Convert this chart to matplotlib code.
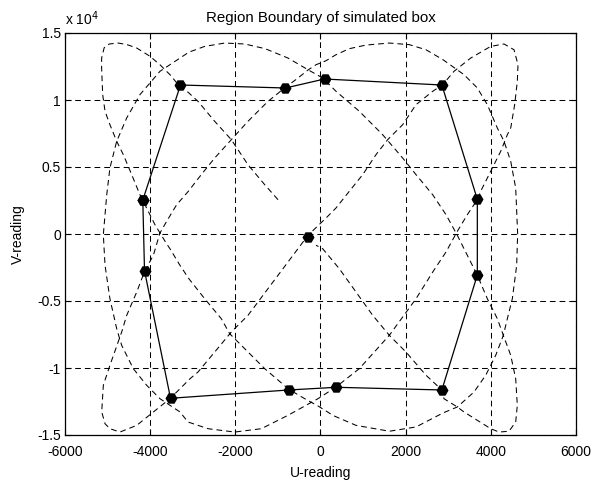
import numpy as np
import matplotlib
matplotlib.use('Agg')
import matplotlib.pyplot as plt

# ---- data ------------------------------------------------------------------
# dashed trace of the simulated readings, in drawing order
curve_u = [-998, -1310, -1703, -2094, -2485, -2877, -3100, -3340, -3535, -3770,
           -4003, -4316, -4540, -4750, -4960, -5080, -5140, -5140, -5115, -5060,
           -4945, -4786, -4630, -4434, -4240, -4043, -3887, -3770, -3620, -3535,
           -3300, -3090, -2720, -2330, -2133, -1780, -1310, -744, -371, -50,
           300, 834, 1616, 2243, 2880, 3213, 3605, 3880, 4115, 4294,
           4388, 4505, 4607, 4630, 4584, 4467, 4310, 4153, 3918, 3683,
           3370, 2880, 2478, 2086, 1616, 1069, 677, 364, 129, -106,
           -294, -528, -841, -1233, -1703, -2094, -2485, -2800, -3100, -3377,
           -3612, -3770, -3925, -4121, -4316, -4551, -4669, -4800, -4945, -5100,
           -5138, -5060, -4945, -4710, -4316, -3925, -3535, -3064, -2877, -2485,
           -2094, -1703, -1233, -763, -294, 129, 364, 677, 991, 1303,
           1578, 1930, 2243, 2635, 2870, 3135, 3527, 3997, 4310, 4545,
           4638, 4622, 4560, 4467, 4388, 4232, 3997, 3762, 3683, 3448,
           3213, 2948, 2635, 2243, 1616, 911, 364, -59, -763, -1390,
           -2015, -2640, -3112, -3300, -3770, -4082, -4396, -4669, -4786, -4945,
           -5060, -5100, -5020, -4945, -4786, -4551, -4240, -3770, -3090, -2720,
           -2250, -1780, -1300, -763, -294, 52, 364, 911, 1460, 1930,
           2243, 2635, 2948, 3213, 3370, 3683, 3918, 4153, 4294, 4467,
           4584, 4622, 4584, 4427, 4192, 3997, 3683, 3370, 3213, 2900,
           2850, 2478, 2008, 1616, 1226, 834, 442, 52, -106]
curve_v = [2560, 3680, 5170, 7040, 8410, 9900, 10550, 11140, 11890, 12630,
           13260, 13880, 14130, 14250, 14180, 13900, 13130, 12390, 10400, 9160,
           8160, 6920, 5920, 4430, 2930, 1690, 690, 75, -700, -1100,
           -2340, -3340, -4830, -6320, -7440, -8560, -10050, -11590, -12290, -12850,
           -13550, -14280, -14720, -14400, -13350, -12910, -11790, -10540, -9050, -7560,
           -6320, -4830, -2340, 0, 3430, 5430, 6920, 7910, 9650, 10900,
           11890, 13000, 13750, 14130, 14250, 14100, 13830, 13380, 12930, 12630,
           12240, 11640, 10900, 9900, 8410, 7040, 5670, 4430, 3200, 2190,
           950, 75, -1590, -2710, -4330, -6070, -7310, -8500, -9800, -11290,
           -13280, -14160, -14530, -14780, -14280, -13280, -12290, -10800, -10300, -8810,
           -7310, -6070, -4080, -2090, -100, 1190, 1940, 3190, 4430, 5920,
           7040, 8160, 9650, 10650, 11140, 12140, 13130, 14000, 14180, 13750,
           12630, 11390, 9650, 7910, 7410, 6170, 4680, 3190, 2560, 1440,
           200, -1340, -2840, -4830, -7560, -10050, -11420, -12290, -13530, -14530,
           -14780, -14530, -14030, -13280, -12290, -11290, -10050, -8310, -7070, -4830,
           -2340, -50, 2930, 4930, 6920, 8660, 10400, 12140, 13570, 14000,
           14250, 14180, 13830, 13130, 12260, 11640, 10650, 9160, 7410, 5670,
           4430, 2930, 1440, -100, -1100, -3080, -4830, -6320, -7560, -9050,
           -10800, -12780, -14030, -14720, -14780, -14530, -13900, -13280, -12910, -12290,
           -11640, -10540, -8810, -7560, -6070, -4330, -2590, -1100, -840]

# boundary vertices (closed polygon)
poly_u = [-4173, -3288, -822, 94, 2850, 3683, 3683, 2850, 368, -744, -3522, -4133, -4173]
poly_v = [2537, 11119, 10896, 11567, 11119, 2590, -3060, -11640, -11440, -11640, -12260, -2740, 2537]

center_u = [-282]
center_v = [-224]

xticks = [-6000, -4000, -2000, 0, 2000, 4000, 6000]
yticks = [-15000, -10000, -5000, 0, 5000, 10000, 15000]
ytick_labels = ['-1.5', '-1', '-0.5', '0', '0.5', '1', '1.5']

# ---- plot ------------------------------------------------------------------
plt.rcParams['font.family'] = ['Liberation Sans', 'DejaVu Sans']
plt.rcParams['font.size'] = 10

fig = plt.figure(figsize=(5.98, 4.8), dpi=100)
ax = fig.add_axes([0.1087, 0.09375, 0.8545, 0.8375])

ax.plot(curve_u, curve_v, color='k', lw=0.75, dashes=(5.5, 3.8))
ax.plot(poly_u, poly_v, color='k', lw=0.9, marker='H', ms=7.5, mfc='k', mec='k')
ax.plot(center_u, center_v, ls='none', color='k', marker='H', ms=7.5)

ax.set_xlim(-6000, 6000)
ax.set_ylim(-15000, 15000)
ax.set_xticks(xticks)
ax.set_xticklabels([str(t) for t in xticks])
ax.set_yticks(yticks)
ax.set_yticklabels(ytick_labels)
ax.grid(True, color='k', lw=0.75, ls=(0, (5.5, 3.8)))
ax.tick_params(direction='in', top=True, right=True, length=4, width=0.8, pad=3)
ax.tick_params(axis='x', pad=7)
for s in ax.spines.values():
    s.set_linewidth(0.9)

ax.text(0.0, 1.012, r'x 10$^{4}$', transform=ax.transAxes, ha='left', va='bottom')
ax.set_title('Region Boundary of simulated box', fontsize=10.8, pad=8)
ax.set_xlabel('U-reading', labelpad=5)
ax.set_ylabel('V-reading', labelpad=9)

plt.savefig('out.png', dpi=100)
